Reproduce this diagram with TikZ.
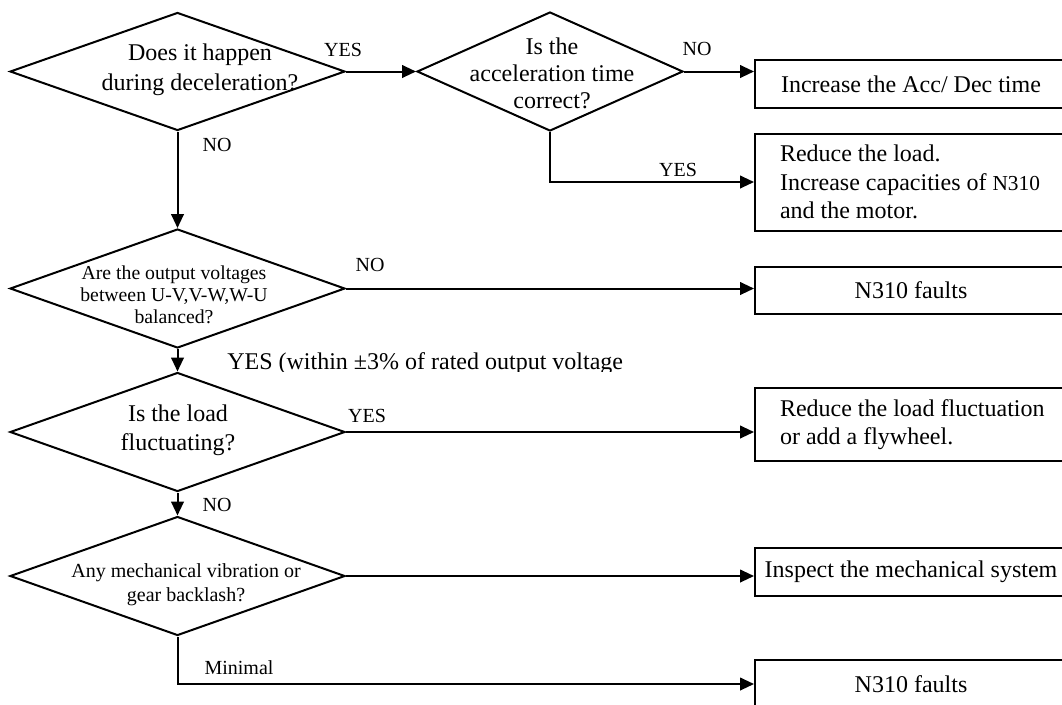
\documentclass[tikz,border=0pt]{standalone}
\usepackage{fontspec}
\setmainfont{Liberation Serif}
\usetikzlibrary{shapes.geometric,arrows.meta}
\begin{document}
\begin{tikzpicture}[x=0.75pt,y=-0.75pt,
  dia/.style={draw, line width=1.5pt, shape=diamond, inner sep=0pt,
              minimum width=251.25pt, minimum height=89.25pt},
  dtext/.style={inner sep=0pt, align=center},
  box/.style={draw, line width=1.5pt, rectangle, inner sep=0pt, anchor=west,
              minimum width=234pt, font=\fontsize{18}{21.4}\selectfont},
  lbox/.style={box, align=flush left, inner xsep=18.75pt, text width=230pt},
  lbl/.style={font=\fontsize{15}{18}\selectfont, inner sep=0pt},
  conn/.style={line width=1.5pt, -{Triangle[length=10.5pt,width=9.5pt]}}
]
\useasboundingbox (0,0) rectangle (1062,704);
\clip (0,0) rectangle (1062,704);

% decisions
\node[dia, minimum height=88.5pt] (d1) at (177.5,71.5) {};
\node[dtext, font=\fontsize{18}{22.5}\selectfont] (t1) at (200,70)
  {Does it happen\\during deceleration?};
\node[dia, minimum width=199.5pt] (d2) at (550,71.5) {};
\node[dtext, font=\fontsize{18}{20.25}\selectfont] (t2) at (552,73.5)
  {Is the\\acceleration time\\correct?};
\node[dia] (d3) at (177.5,288.5) {};
\node[dtext, font=\fontsize{14.8}{16.5}\selectfont] (t3) at (174,295)
  {Are the output voltages\\between U-V,V-W,W-U\\balanced?};
\node[dia] (d4) at (177.5,432) {};
\node[dtext, font=\fontsize{18}{21.75}\selectfont] (t4) at (178,430.5)
  {Is the load\\fluctuating?};
\node[dia] (d5) at (177.5,576) {};
\node[dtext, font=\fontsize{15}{18}\selectfont] (t5) at (186,585)
  {Any mechanical vibration or\\gear backlash?};

% actions
\node[box, minimum height=36pt] (b1) at (754,84) {Increase the Acc/ Dec time};
\node[lbox, minimum height=72.75pt] (b2) at (754,182)
  {Reduce the load.\\Increase capacities of {\fontsize{16}{21.4}\selectfont N310}\\and the motor.};
\node[box, minimum height=35.25pt] (b3) at (754,290.5) {N310 faults};
\node[lbox, minimum height=54.75pt, font=\fontsize{18}{21}\selectfont] (b4) at (754,424.5)
  {Reduce the load fluctuation\\or add a flywheel.};
\node[box, minimum height=36pt] (b5) at (754,572) {Inspect the mechanical system};
\node[box, minimum height=36pt] (b6) at (754,684) {N310 faults};

% connectors
\draw[conn] (d1.east) -- (d2.west);
\draw[conn] (d2.east) -- (d2.east -| b1.west);
\draw[conn] (d2.south) |- (b2.west);
\draw[conn] (d1.south) -- (d3.north);
\draw[conn] (d3.east) -- (d3.east -| b3.west);
\draw[conn] (d3.south) -- (d4.north);
\draw[conn] (d4.east) -- (d4.east -| b4.west);
\draw[conn] (d4.south) -- (d5.north);
\draw[conn] (d5.east) -- (d5.east -| b5.west);
\draw[conn] (d5.south) |- (b6.west);

% labels
\node[lbl] (l1) at (343,50) {YES};
\node[lbl] (l2) at (697,49) {NO};
\node[lbl] (l3) at (678,170) {YES};
\node[lbl] (l4) at (217,145) {NO};
\node[lbl] (l5) at (370,265) {NO};
\begin{scope}
  \clip (220,340) rectangle (700,371);
  \node[inner sep=0pt, anchor=west, font=\fontsize{18}{22}\selectfont] (l6) at (227,364)
    {YES (within ±3\% of rated output voltage};
\end{scope}
\node[lbl] (l7) at (367,416) {YES};
\node[lbl] (l8) at (217,505) {NO};
\node[lbl] (l9) at (239,668) {Minimal};
\end{tikzpicture}
\end{document}
